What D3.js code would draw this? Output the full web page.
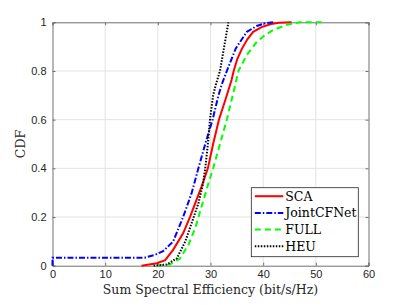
<!DOCTYPE html>
<html>
<head>
<meta charset="utf-8">
<script src="https://cdn.jsdelivr.net/npm/d3@7"></script>
<style>
  body { margin: 0; background: #fff; }
</style>
</head>
<body>
<div id="chart"></div>
<script>
// CDF curves, as [sum SE, CDF] pairs
const scaPoints = [[16.9,0],[19.8,0.01],[21.4,0.023],[22.9,0.065],[24.8,0.133],[26.1,0.2],[28.3,0.325],[29.5,0.4],[30.5,0.5],[31.6,0.6],[32.8,0.68],[34.0,0.763],[34.4,0.8],[35.1,0.85],[36.0,0.893],[37.0,0.93],[38.1,0.961],[39.7,0.98],[41.5,0.993],[43.0,0.998],[45.4,1]];
const jointPoints = [[0,0],[0,0.033],[17.5,0.033],[19.5,0.045],[21.0,0.06],[22.9,0.099],[24.8,0.2],[26.4,0.297],[27.7,0.4],[29.0,0.5],[30.4,0.6],[31.4,0.69],[32.1,0.743],[33.1,0.8],[34.8,0.893],[36.9,0.961],[38.8,0.985],[40.5,0.997],[41.9,1]];
const fullPoints = [[19.9,0],[22.3,0.005],[24.2,0.03],[25.8,0.085],[27.1,0.154],[28.3,0.243],[29.6,0.338],[30.5,0.4],[31.8,0.5],[33.1,0.6],[34.0,0.68],[34.7,0.743],[35.3,0.8],[36.9,0.866],[38.8,0.92],[40.5,0.95],[41.9,0.968],[44.5,0.99],[47.0,1],[51.6,1]];
const heuPoints = [[19.2,0],[21.7,0.005],[23.6,0.03],[25.2,0.099],[26.4,0.174],[27.7,0.256],[28.6,0.338],[29.0,0.4],[29.5,0.5],[29.9,0.6],[30.5,0.7],[31.0,0.743],[31.8,0.8],[32.6,0.9],[33.4,1]];

const seriesNames = ["SCA", "JointCFNet", "FULL", "HEU"];
const xTicks = [0, 10, 20, 30, 40, 50, 60];
const yTicks = [0, 0.2, 0.4, 0.6, 0.8, 1];

const series = [
  {name: seriesNames[0], values: scaPoints, color: "#ff0000", dash: null},
  {name: seriesNames[1], values: jointPoints, color: "#0000ff", dash: "6,2,1.5,2"},
  {name: seriesNames[2], values: fullPoints, color: "#00ff00", dash: "6,4"},
  {name: seriesNames[3], values: heuPoints, color: "#000000", dash: "1.5,1.5"}
];

const W = 407, H = 305;
const margin = {top: 22.3, right: 38.5, bottom: 39.3, left: 52.5};
const width = W - margin.left - margin.right;
const height = H - margin.top - margin.bottom;

const svg = d3.select("#chart").append("svg")
    .attr("width", W)
    .attr("height", H)
    .style("background", "#fff");

const g = svg.append("g")
    .attr("transform", `translate(${margin.left},${margin.top})`);

const x = d3.scaleLinear().domain([0, 60]).range([0, width]);
const y = d3.scaleLinear().domain([0, 1]).range([height, 0]);

const axisColor = "#707070";
const tickFont = "Liberation Sans, Arial, sans-serif";
const serif = "DejaVu Serif, serif";

// grid
g.append("g").selectAll("line").data(xTicks.slice(1, -1)).join("line")
    .attr("x1", d => x(d)).attr("x2", d => x(d))
    .attr("y1", 0).attr("y2", height)
    .attr("stroke", "#e3e3e3").attr("stroke-width", 1);
g.append("g").selectAll("line").data(yTicks.slice(1, -1)).join("line")
    .attr("x1", 0).attr("x2", width)
    .attr("y1", d => y(d)).attr("y2", d => y(d))
    .attr("stroke", "#e3e3e3").attr("stroke-width", 1);

// axes (ticks pointing inward, MATLAB style)
const xAxis = g.append("g")
    .attr("transform", `translate(0,${height})`)
    .call(d3.axisBottom(x).tickValues(xTicks).tickSize(-3).tickPadding(5).tickFormat(d3.format("d")));
const yAxis = g.append("g")
    .call(d3.axisLeft(y).tickValues(yTicks).tickSize(-3).tickPadding(6).tickFormat(d => d === 0 || d === 1 ? d : d3.format(".1f")(d)));
const xTop = g.append("g")
    .call(d3.axisTop(x).tickValues(xTicks).tickSize(-3).tickFormat(""));
const yRight = g.append("g")
    .attr("transform", `translate(${width},0)`)
    .call(d3.axisRight(y).tickValues(yTicks).tickSize(-3).tickFormat(""));

[xAxis, yAxis, xTop, yRight].forEach(a => {
  a.selectAll(".domain").attr("stroke", axisColor);
  a.selectAll(".tick line").attr("stroke", axisColor);
  a.selectAll(".tick text")
      .attr("fill", "#262626")
      .style("font-family", tickFont)
      .style("font-size", "11px");
});

// curves
const line = d3.line()
    .x(d => x(d[0]))
    .y(d => y(d[1]));

g.append("g").selectAll("path").data(series).join("path")
    .attr("fill", "none")
    .attr("stroke", d => d.color)
    .attr("stroke-width", 2)
    .attr("stroke-dasharray", d => d.dash)
    .attr("d", d => line(d.values));

// axis labels
svg.append("text")
    .attr("x", margin.left + width / 2)
    .attr("y", 294)
    .attr("text-anchor", "middle")
    .style("font-family", serif)
    .style("font-size", "12.5px")
    .attr("fill", "#262626")
    .text("Sum Spectral Efficiency (bit/s/Hz)");

svg.append("text")
    .attr("transform", `translate(25,${margin.top + height / 2}) rotate(-90)`)
    .attr("text-anchor", "middle")
    .style("font-family", serif)
    .style("font-size", "12.5px")
    .attr("fill", "#262626")
    .text("CDF");

// legend
const legend = svg.append("g").attr("transform", "translate(251.3,187.7)");
legend.append("rect")
    .attr("width", 107).attr("height", 69)
    .attr("fill", "#fff")
    .attr("stroke", "#262626")
    .attr("stroke-width", 0.8);

const item = legend.selectAll("g.item").data(series).join("g")
    .attr("class", "item")
    .attr("transform", (d, i) => `translate(0,${8.5 + i * 16.7})`);
item.append("line")
    .attr("x1", 3.5).attr("x2", 32)
    .attr("stroke", d => d.color)
    .attr("stroke-width", 2)
    .attr("stroke-dasharray", d => d.dash);
item.append("text")
    .attr("x", 34)
    .attr("dy", "0.35em")
    .style("font-family", serif)
    .style("font-size", "12.5px")
    .attr("fill", "#000")
    .text(d => d.name);
</script>
</body>
</html>
